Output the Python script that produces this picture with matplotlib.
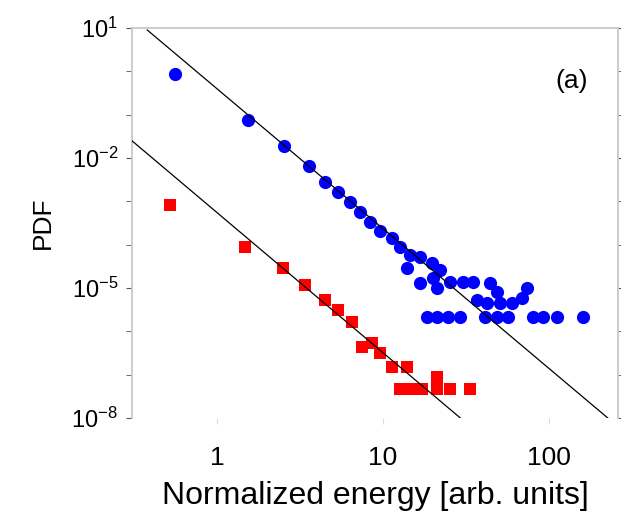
import matplotlib
matplotlib.use("Agg")
import matplotlib.pyplot as plt
from matplotlib.ticker import FixedLocator, FixedFormatter, NullLocator, NullFormatter

# ---------------------------------------
# data (energy in arb. units, PDF)
# ---------------------------------------
blue_energy = [0.56, 1.54, 2.53, 3.58, 4.47, 5.36, 6.33, 7.27, 8.35, 9.6,
               11.3, 12.7, 14.5, 16.7, 19.7, 13.9, 22.0, 16.7, 20.0, 21.1,
               25.3, 30.3, 34.8, 44.1, 48.6, 73.7, 36.8, 42.3, 50.7, 59.8,
               68.8, 18.4, 21.1, 24.6, 29.1, 41.1, 48.6, 56.6, 80.1, 92.0,
               111.7, 160.0]
blue_pdf = [0.87, 0.0753, 0.0189, 6.5e-3, 2.8e-3, 1.64e-3, 9.6e-4, 5.7e-4, 3.3e-4, 2.07e-4,
            1.43e-4, 8.8e-5, 5.8e-5, 5.2e-5, 3.8e-5, 2.9e-5, 2.6e-5, 1.3e-5, 1.7e-5, 1.0e-5,
            1.37e-5, 1.37e-5, 1.37e-5, 1.3e-5, 8.1e-6, 1.0e-5, 5.3e-6, 4.5e-6, 4.6e-6, 4.6e-6,
            5.9e-6, 2.14e-6, 2.14e-6, 2.14e-6, 2.14e-6, 2.14e-6, 2.14e-6, 2.14e-6, 2.14e-6, 2.14e-6,
            2.14e-6, 2.14e-6]

red_energy = [0.52, 1.47, 2.50, 3.39, 4.47, 5.36, 6.51, 7.47, 8.58, 9.6,
              11.3, 14.0, 12.7, 14.8, 17.2, 21.1, 25.3, 33.4, 21.1]
red_pdf = [8.2e-4, 8.8e-5, 2.9e-5, 1.17e-5, 5.3e-6, 3.1e-6, 1.64e-6, 4.3e-7, 5.4e-7, 3.2e-7,
           1.5e-7, 1.5e-7, 4.7e-8, 4.7e-8, 4.7e-8, 4.7e-8, 4.7e-8, 4.7e-8, 8.8e-8]

# power-law guide lines (end points)
fit_blue_x = [0.38, 226.0]
fit_blue_y = [9.0, 1.0e-8]
fit_red_x = [0.3, 30.3]
fit_red_y = [0.027, 8.9e-9]

y_major = [1e1, 1e-2, 1e-5, 1e-8]
y_major_labels = [r"$10^{1}$", r"$10^{-2}$", r"$10^{-5}$", r"$10^{-8}$"]
y_minor = [1e0, 1e-1, 1e-3, 1e-4, 1e-6, 1e-7]
x_major = [1, 10, 100]
x_major_labels = ["1", "10", "100"]

# ---------------------------------------

def main():
    plt.rcParams["font.family"] = ["Liberation Sans", "DejaVu Sans"]
    plt.rcParams["mathtext.fontset"] = "custom"
    plt.rcParams["mathtext.rm"] = "Liberation Sans"
    plt.rcParams["mathtext.it"] = "Liberation Sans:italic"
    plt.rcParams["mathtext.bf"] = "Liberation Sans:bold"

    fig = plt.figure(figsize=(6.21, 5.17), dpi=100)
    ax = fig.add_axes([0.2126, 0.1915, 0.7824, 0.7543])

    ax.set_xscale("log")
    ax.set_yscale("log")
    ax.set_xlim(0.3076, 260)
    ax.set_ylim(1e-8, 1e1)

    ax.plot(blue_energy, blue_pdf, "o", color="#0000ff", markersize=9.5, markeredgewidth=0, zorder=2)
    ax.plot(red_energy, red_pdf, "s", color="#ff0000", markersize=8.5, markeredgewidth=0, zorder=2)
    ax.plot(fit_blue_x, fit_blue_y, color="black", linewidth=0.9, zorder=3)
    ax.plot(fit_red_x, fit_red_y, color="black", linewidth=0.9, zorder=3)

    ax.yaxis.set_major_locator(FixedLocator(y_major))
    ax.yaxis.set_major_formatter(FixedFormatter(y_major_labels))
    ax.yaxis.set_minor_locator(FixedLocator(y_minor))
    ax.yaxis.set_minor_formatter(NullFormatter())
    ax.xaxis.set_major_locator(FixedLocator(x_major))
    ax.xaxis.set_major_formatter(FixedFormatter(x_major_labels))
    ax.xaxis.set_minor_locator(NullLocator())

    for side in ["left", "top", "right"]:
        ax.spines[side].set_color("#c8c8c8")
        ax.spines[side].set_linewidth(1.3)
    ax.spines["bottom"].set_visible(False)

    ax.tick_params(axis="y", which="both", direction="out", length=4, color="#555555",
                   labelsize=17, pad=6, right=True)
    ax.tick_params(axis="x", which="both", direction="out", length=4, color="#dddddd",
                   labelsize=19, pad=16)

    ax.set_ylabel("PDF", fontsize=19, labelpad=12)
    ax.set_xlabel("Normalized energy [arb. units]", fontsize=23, labelpad=8)
    ax.text(0.905, 0.865, "(a)", transform=ax.transAxes, fontsize=19, ha="center", va="center")

    fig.savefig("out.png", dpi=100)

# ---------------------------------------

if __name__ == "__main__":
    main()
